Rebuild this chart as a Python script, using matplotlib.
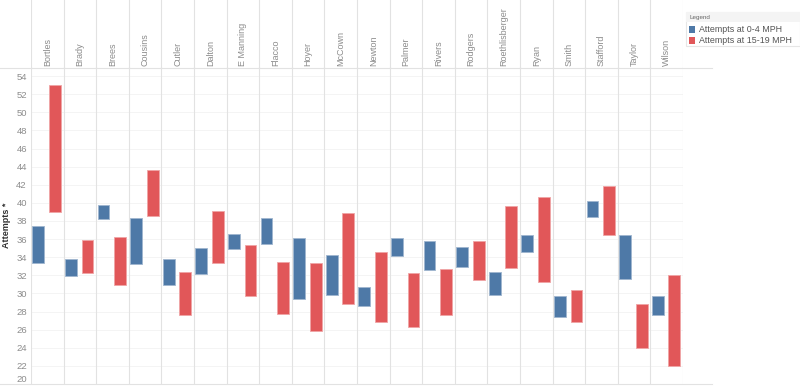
import matplotlib.pyplot as plt
from matplotlib.lines import Line2D
from matplotlib.patches import Rectangle

# --- Datos (rango de intentos por jugador) ---
players = ["Bortles", "Brady", "Brees", "Cousins", "Cutler", "Dalton", "E Manning",
           "Flacco", "Hoyer", "McCown", "Newton", "Palmer", "Rivers", "Rodgers",
           "Roethlisberger", "Ryan", "Smith", "Stafford", "Taylor", "Wilson"]
low_0_4 = [33.4, 31.9, 38.2, 33.2, 30.9, 32.2, 34.9, 35.5, 29.4, 29.8,
           28.6, 34.1, 32.6, 32.9, 29.8, 34.6, 27.4, 38.4, 31.6, 27.6]
high_0_4 = [37.4, 33.8, 39.8, 38.3, 33.8, 35.0, 36.6, 38.3, 36.1, 34.2,
            30.7, 36.1, 35.8, 35.1, 32.4, 36.5, 29.7, 40.2, 36.4, 29.7]
low_15_19 = [39.0, 32.3, 30.9, 38.6, 27.6, 33.4, 29.7, 27.7, 25.9, 28.8,
             26.9, 26.3, 27.6, 31.5, 32.8, 31.3, 26.9, 36.5, 24.0, 22.0]
high_15_19 = [53.0, 35.9, 36.2, 43.6, 32.4, 39.1, 35.3, 33.5, 33.4, 38.9,
              34.6, 32.3, 32.7, 35.8, 39.6, 40.7, 30.4, 41.9, 28.8, 32.0]
y_ticks = list(range(20, 55, 2))

blue = "#4e79a7"
red = "#e15759"
grid_c = "#e2e2e2"
text_c = "#8c8c8c"
font = "Liberation Sans"

W, H = 800, 387
fig = plt.figure(figsize=(8, 3.87), dpi=100)

# --- Gráfica principal ---
ax = fig.add_axes([31 / W, 3 / H, 652 / W, 317 / H])
x = list(range(len(players)))
ax.bar([i - 0.275 for i in x], [h - l for h, l in zip(high_0_4, low_0_4)], bottom=low_0_4,
       width=0.36, color=blue, edgecolor="#9fb6cf", linewidth=0.6, zorder=3)
ax.bar([i + 0.235 for i in x], [h - l for h, l in zip(high_15_19, low_15_19)], bottom=low_15_19,
       width=0.36, color=red, edgecolor="#f0a5a6", linewidth=0.6, zorder=3)
ax.set_xlim(-0.5, len(players) - 0.5)
ax.set_ylim(20, 55)
ax.set_xticks([])
ax.set_yticks(y_ticks)
ax.set_yticklabels([str(t) for t in y_ticks], fontsize=6.8, color=text_c, family=font)
ax.get_yticklabels()[0].set_va("bottom")
ax.tick_params(axis="y", length=0, pad=3)
for t in y_ticks:
    ax.axhline(t, color="#f3f3f3", linewidth=0.6, zorder=0)
for i in range(len(players) + 1):
    ax.axvline(i - 0.5, color=grid_c, linewidth=0.8, zorder=1)
for s in ax.spines.values():
    s.set_visible(False)
ax.set_ylabel("Attempts *", fontsize=6.5, fontweight="bold", color="#333333",
              family=font, labelpad=4)

# --- Encabezado con nombres ---
hx = fig.add_axes([31 / W, (H - 68) / H, 652 / W, 68 / H], sharex=ax)
hx.set_ylim(0, 1)
hx.axis("off")
for i in range(len(players) + 1):
    hx.axvline(i - 0.5, color=grid_c, linewidth=0.8)
for i, p in enumerate(players):
    hx.text(i, 0.03, p, rotation=90, ha="center", va="bottom", fontsize=6.5,
            color=text_c, family=font)

# líneas horizontales
fig.add_artist(Line2D([0, 712 / W], [(H - 68) / H] * 2, color=grid_c, linewidth=0.8))
fig.add_artist(Line2D([0, 712 / W], [(H - 384) / H] * 2, color=grid_c, linewidth=0.8))

# --- Leyenda ---
fig.add_artist(Rectangle((686 / W, (H - 46) / H), 114 / W, 34 / H, transform=fig.transFigure,
                         facecolor="white", edgecolor="#e6e6e6", linewidth=0.8))
fig.add_artist(Rectangle((686 / W, (H - 22) / H), 114 / W, 10 / H, transform=fig.transFigure,
                         facecolor="#f4f4f4", edgecolor="none"))
fig.text(689 / W, (H - 17.5) / H, "Legend", fontsize=4.5, color="#666666", va="center", family=font)
for yy, col, lab in [(29.5, blue, "Attempts at 0-4 MPH"), (40.5, red, "Attempts at 15-19 MPH")]:
    fig.add_artist(Rectangle((689 / W, (H - yy - 3) / H), 6 / W, 6 / H, transform=fig.transFigure,
                             facecolor=col, edgecolor="none"))
    fig.text(699 / W, (H - yy) / H, lab, fontsize=6.4, color="#555555", va="center", family=font)

fig.savefig("out.png", dpi=100)
